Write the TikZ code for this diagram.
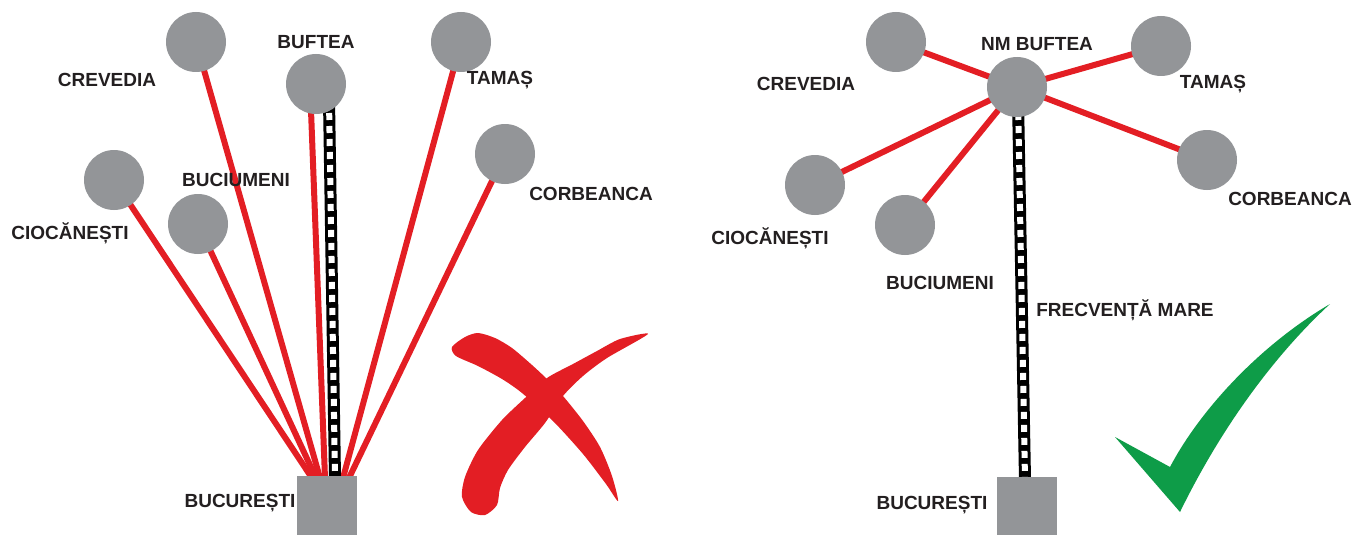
\documentclass[tikz,border=0pt]{standalone}
\usepackage{fontspec}
\setmainfont{Liberation Sans}
\usetikzlibrary{calc}
\begin{document}
\begin{tikzpicture}[x=1pt,y=-1pt,
  town/.style={circle,fill=cgray,minimum size=60pt,inner sep=0pt},
  city/.style={rectangle,fill=cgray,minimum width=60pt,minimum height=60pt,inner sep=0pt},
  lbl/.style={font=\fontsize{19}{22}\selectfont\bfseries,text=ctext,inner sep=0pt},
  road/.style={draw=cred,line width=6pt},
  railb/.style={draw=black,line width=12pt},
  railw/.style={draw=white,line width=6pt,dash pattern=on 7pt off 6pt}]
\definecolor{cgray}{HTML}{939598}
\definecolor{cred}{HTML}{E31E24}
\definecolor{ctext}{HTML}{231F20}
\definecolor{cgreen}{HTML}{0E9C48}
\useasboundingbox (0,0) rectangle (1368,535);
% ---------- left ----------
\coordinate (eA) at (312,478);
\coordinate (eB) at (316,478);
\coordinate (eC) at (320,478);
\coordinate (eD) at (325,478);
\coordinate (eR) at (335,478);
\coordinate (eE) at (343,478);
\coordinate (eF) at (349,478);
\coordinate (rTopL) at (329,100);
\coordinate (bfL) at (310,84);
\path (196,42) coordinate (pCre) (316,84) coordinate (pBuf) (461,42) coordinate (pTam)
      (114,180) coordinate (pCio) (198,224) coordinate (pBuc) (505,154) coordinate (pCor);
\draw[road] (pCio) -- (eA);
\draw[road] (pBuc) -- (eB);
\draw[road] (pCre) -- (eC);
\draw[road] (bfL) -- (eD);
\draw[road] (pTam) -- (eE);
\draw[road] (pCor) -- (eF);
\draw[railb] (rTopL) -- (eR);
\draw[railw] (rTopL) -- (eR);
\node[town] (cre) at (pCre) {};
\node[town] (buf) at (pBuf) {};
\node[town] (tam) at (pTam) {};
\node[town] (cio) at (pCio) {};
\node[town] (bci) at (pBuc) {};
\node[town] (cor) at (pCor) {};
\node[city] (bucL) at (327,506) {};
\node[lbl] (tCre) at (107,80) {CREVEDIA};
\node[lbl] (tBuf) at (316,42) {BUFTEA};
\node[lbl] (tTam) at (500,80) {TAMAȘ};
\node[lbl] (tBci) at (236,180) {BUCIUMENI};
\node[lbl] (tCio) at (70,233) {CIOCĂNEȘTI};
\node[lbl] (tCor) at (591,194) {CORBEANCA};
\node[lbl] (tBucL) at (240,503) {BUCUREȘTI};
% X mark
\fill[cred] plot[smooth cycle,tension=0.45] coordinates {
  (452,347) (465,337) (478,333) (495,338) (512,348) (532,365) (548,380)
  (563,396) (583,421) (600,447) (612,476) (618,501)
  (606,484) (583,454) (553,421) (522,393) (502,379) (478,366) (456,356)};
\fill[cred] plot[smooth cycle,tension=0.45] coordinates {
  (648,334) (607,358) (583,376) (563,396) (545,423) (525,447) (508,470)
  (500,488) (497,505) (485,515) (471,512) (462,497) (465,477) (478,450)
  (502,420) (525,398) (547,378) (573,364) (597,351) (620,339)};
% ---------- right ----------
\path (1017,87) coordinate (qNm) (896,42) coordinate (qCre) (1161,46) coordinate (qTam)
      (815,185) coordinate (qCio) (905,225) coordinate (qBci) (1207,160) coordinate (qCor);
\coordinate (rBot) at (1025,480);
\coordinate (rTopR) at (1018,100);
\draw[road] (qNm) -- (qCre);
\draw[road] (qNm) -- (qTam);
\draw[road] (qNm) -- (qCio);
\draw[road] (qNm) -- (qBci);
\draw[road] (qNm) -- (qCor);
\draw[railb] (rTopR) -- (rBot);
\draw[railw] (rTopR) -- (rBot);
\node[town] (nm) at (qNm) {};
\node[town] (cre2) at (qCre) {};
\node[town] (tam2) at (qTam) {};
\node[town] (cio2) at (qCio) {};
\node[town] (bci2) at (qBci) {};
\node[town] (cor2) at (qCor) {};
\node[city] (bucR) at (1027,507) {};
\node[lbl] (uNm) at (1037,44) {NM BUFTEA};
\node[lbl] (uCre) at (806,84) {CREVEDIA};
\node[lbl] (uTam) at (1213,84) {TAMAȘ};
\node[lbl] (uCio) at (770,238) {CIOCĂNEȘTI};
\node[lbl] (uBci) at (940,283) {BUCIUMENI};
\node[lbl] (uCor) at (1290,199) {CORBEANCA};
\node[lbl] (uBuc) at (932,505) {BUCUREȘTI};
\node[lbl] (uFr) at (1125,310) {FRECVENȚĂ MARE};
% check mark
\fill[cgreen] (1115,437) -- (1170,467)
  .. controls (1200,410) and (1260,345) .. (1330,304)
  .. controls (1280,350) and (1225,420) .. (1180,512) -- cycle;
\end{tikzpicture}
\end{document}
